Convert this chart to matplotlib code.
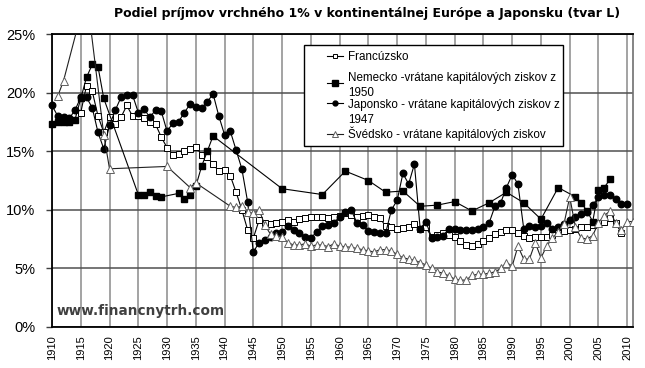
import numpy as np
import matplotlib.pyplot as plt
from matplotlib.lines import Line2D
from matplotlib.patches import Rectangle

plt.rcParams['font.family'] = ['Liberation Sans', 'DejaVu Sans']

# Francuzsko 1915-2009
fr_years = np.arange(1915, 2010)
fr_vals = [18.3, 20.6, 20.1, 18.0, 16.6, 17.9, 17.3, 17.9, 18.9, 18.0,
           18.0, 17.8, 17.5, 17.3, 16.2, 15.3, 14.7, 14.8, 15.0, 15.2,
           15.4, 14.7, 14.5, 13.9, 13.3, 13.4, 12.9, 11.5, 10.0, 8.3,
           7.6, 9.1, 8.9, 8.8, 8.9, 9.0, 9.1, 9.0, 9.2, 9.3,
           9.4, 9.4, 9.4, 9.3, 9.4, 9.5, 9.7, 9.55, 9.35, 9.5,
           9.55, 9.35, 9.3, 8.6, 8.5, 8.4, 8.45, 8.5, 8.8, 8.4,
           8.5, 7.7, 7.85, 8.0, 7.85, 7.7, 7.3, 7.0, 6.9, 7.1,
           7.3, 7.6, 7.9, 8.1, 8.3, 8.3, 8.0, 7.8, 7.6, 7.7,
           7.7, 7.7, 7.85, 8.0, 8.2, 8.3, 8.4, 8.5, 8.55, 8.7,
           8.85, 9.0, 9.3, 8.85, 8.0]

# Nemecko
de_years = [1910, 1911, 1912, 1913, 1914, 1915, 1916, 1917, 1918, 1919,
            1925, 1926, 1927, 1928, 1929, 1932, 1933, 1934, 1935, 1936, 1937, 1938,
            1950, 1957, 1961, 1965, 1968, 1971, 1974, 1977, 1980, 1983, 1986,
            1989, 1992, 1995, 1998, 2001, 2002, 2003, 2004, 2005, 2006, 2007]
de_vals = [17.3, 17.5, 17.5, 17.45, 17.7, 19.5, 21.3, 22.4, 22.2, 19.5,
           11.3, 11.3, 11.5, 11.2, 11.1, 11.4, 10.9, 11.3, 12.0, 13.7, 15.0, 16.3,
           11.8, 11.3, 13.3, 12.5, 11.5, 11.6, 10.3, 10.4, 10.7, 9.9, 10.6,
           11.5, 10.6, 9.2, 11.9, 11.1, 10.6, 9.9, 9.0, 11.7, 11.9, 12.6]

# Japonsko 1910-2010
jp_years = np.arange(1910, 2011)
jp_vals = [18.9, 18.0, 17.9, 17.8, 18.5, 19.6, 19.6, 18.7, 16.6, 15.2,
           17.2, 18.5, 19.6, 19.8, 19.8, 18.3, 18.6, 17.9, 18.5, 18.4,
           16.7, 17.4, 17.5, 18.3, 19.0, 18.8, 18.7, 19.2, 19.9, 18.0,
           16.4, 16.7, 15.1, 13.5, 10.7, 6.4, 7.2, 7.4, 7.7, 8.0,
           8.1, 8.6, 8.3, 8.0, 7.7, 7.6, 8.1, 8.6, 8.7, 8.9,
           9.4, 9.8, 10.0, 8.9, 8.7, 8.2, 8.1, 8.0, 8.0, 10.0,
           10.8, 13.1, 12.2, 13.9, 8.4, 9.0, 7.6, 7.7, 7.8, 8.4,
           8.4, 8.3, 8.3, 8.3, 8.4, 8.5, 8.9, 10.3, 10.6, 11.9,
           13.0, 12.2, 8.4, 8.6, 8.5, 8.6, 8.9, 8.4, 8.5, 8.8,
           9.1, 9.4, 9.6, 9.8, 10.4, 11.1, 11.3, 11.3, 10.9, 10.5,
           10.5]

# Svedsko
se_years = [1911, 1912, 1916, 1919, 1920, 1930, 1934, 1935, 1941, 1942] + list(range(1943, 2012))
se_vals = [19.7, 21.0, 28.5, 16.4, 13.5, 13.7, 11.9, 12.3, 10.3, 10.2,
           10.3, 9.8, 9.7, 10.0, 8.7, 7.9, 7.8, 7.7, 7.2, 7.0,
           7.0, 7.1, 6.9, 7.0, 7.0, 6.85, 7.1, 6.9, 6.85, 6.8,
           6.7, 6.6, 6.5, 6.4, 6.6, 6.6, 6.5, 6.2, 5.9, 5.8,
           5.7, 5.5, 5.3, 5.0, 4.7, 4.6, 4.35, 4.1, 4.0, 4.0,
           4.4, 4.5, 4.5, 4.6, 4.7, 5.0, 5.5, 5.2, 6.9, 5.8,
           5.8, 7.2, 5.9, 6.9, 7.6, 8.1, 8.8, 11.1, 8.5, 7.6,
           7.5, 7.8, 8.9, 9.5, 9.9, 8.85, 8.3, 9.0, 9.0]

labels = ['Francúzsko',
          'Nemecko -vrátane kapitálových ziskov z\n1950',
          'Japonsko - vrátane kapitálových ziskov z\n1947',
          'Švédsko - vrátane kapitálových ziskov']
xticks = np.arange(1910, 2011, 5)

W, H = 645, 368
fig = plt.figure(figsize=(6.45, 3.68), dpi=100)
ax = fig.add_axes([52/W, 41/H, 581/W, 293/H])

styles = [
    dict(color='black', marker='s', mfc='white', mec='black', mew=0.7),
    dict(color='black', marker='s', mfc='black', mec='black'),
    dict(color='black', marker='o', mfc='black', mec='black'),
    dict(color='#202020', marker='^', mfc='white', mec='#606060', mew=0.7),
]
sizes = [4.3, 4.5, 4.7, 5.2]
series = [(fr_years, fr_vals), (de_years, de_vals), (jp_years, jp_vals), (se_years, se_vals)]
for (xs, ys), st, ms, z in zip(series, styles, sizes, [3, 3, 3, 4]):
    ax.plot(xs, ys, lw=0.8, ms=ms, zorder=z, clip_on=(st['marker'] == '^'), **st)

ax.set_xlim(1910, 2011)
ax.set_ylim(0, 25)
ax.set_xticks(xticks)
ax.set_xticklabels([str(y) for y in xticks], rotation=90, fontsize=8)
ax.set_yticks(np.arange(0, 26, 5))
ax.set_yticklabels(['%d%%' % v for v in range(0, 26, 5)], fontsize=10.5)
ax.tick_params(axis='x', length=0, pad=6)
ax.tick_params(axis='y', length=4, width=1, pad=8, color='#404040')

ax.grid(axis='y', color='#505050', lw=1.1)
ax.grid(axis='x', color='#8a8a8a', lw=1.1)
ax.set_axisbelow(True)
for s in ['left', 'bottom', 'top']:
    ax.spines[s].set_linewidth(1.3)
    ax.spines[s].set_color('black')
ax.spines['right'].set_color('#707070')
ax.spines['right'].set_linewidth(1.2)

# legend drawn by hand (Excel-like layout)
fig.patches.append(Rectangle((304/W, 1 - 146/H), (563 - 304)/W, (146 - 45)/H,
                             transform=fig.transFigure, facecolor='white',
                             edgecolor='black', lw=1.0, zorder=5))
handle_y = [56, 83, 103, 134]
text_y = [[57], [78, 93], [105, 120], [134]]
leg_ms = [3.5, 3.8, 3.5, 4.0]
for st, ms, hy, lab, ty in zip(styles, leg_ms, handle_y, labels, text_y):
    fig.add_artist(Line2D([327/W, 335/W, 343/W], [1 - hy/H] * 3, transform=fig.transFigure,
                          lw=0.8, ms=ms, markevery=[1], zorder=6, **st))
    for line, y in zip(lab.split('\n'), ty):
        fig.text(348/W, 1 - y/H, line, ha='left', va='center', fontsize=8.4, zorder=6)

fig.text(367/W, 1 - 13/H, 'Podiel príjmov vrchného 1% v kontinentálnej Európe a Japonsku (tvar L)',
         ha='center', va='center', fontsize=9, fontweight='bold', family='DejaVu Sans')
fig.text(141/W, 1 - 311/H, 'www.financnytrh.com', ha='center', va='center',
         fontsize=9.8, fontweight='bold', color='#404040', family='DejaVu Sans', zorder=5)

fig.savefig('out.png', dpi=100)
